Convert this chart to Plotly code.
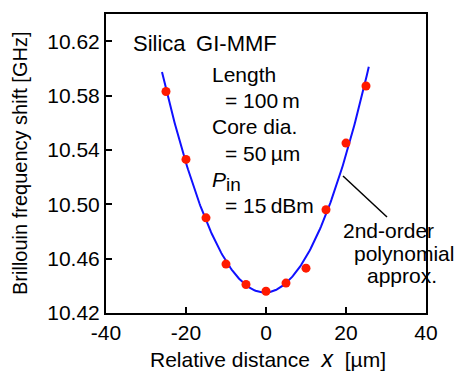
import numpy as np
import plotly.graph_objects as go

# Data
distance_um = [-25, -20, -15, -10, -5, 0, 5, 10, 15, 20, 25]
bfs_ghz = [10.583, 10.533, 10.490, 10.456, 10.441, 10.436, 10.442, 10.453, 10.496, 10.545, 10.587]

x_ticks = [-40, -20, 0, 20, 40]
y_ticks = [10.42, 10.46, 10.50, 10.54, 10.58, 10.62]

# 2nd-order polynomial approximation of the measured points
coef = np.polyfit(distance_um, bfs_ghz, 2)
xf = np.linspace(-26.0, 25.7, 200)
yf = np.polyval(coef, xf)

FONT = "Liberation Sans, Arial, sans-serif"

fig = go.Figure()
fig.add_trace(go.Scatter(x=xf, y=yf, mode="lines",
                         line=dict(color="#1010ff", width=2), hoverinfo="skip"))
fig.add_trace(go.Scatter(x=distance_um, y=bfs_ghz, mode="markers",
                         marker=dict(color="#ff1a00", size=9, line=dict(width=0))))

axis_common = dict(showline=True, linecolor="black", linewidth=2, mirror=True,
                   ticks="inside", ticklen=6, tickwidth=2, tickcolor="black",
                   showgrid=False, zeroline=False,
                   tickfont=dict(family=FONT, size=21, color="black"))

fig.update_xaxes(range=[-40, 40], tickvals=x_ticks, ticktext=[str(v) for v in x_ticks],
                 **axis_common)
fig.update_yaxes(range=[10.42, 10.64], tickvals=y_ticks,
                 ticktext=[f"{v:.2f}" for v in y_ticks], **axis_common)

ann = []
def txt(x, y, s, xanchor="left", size=21):
    ann.append(dict(x=x, y=y, xref="paper", yref="paper", text=s, showarrow=False,
                    xanchor=xanchor, yanchor="middle",
                    font=dict(family=FONT, size=size, color="black")))

W0, W1, H0, H1 = 106, 426, 14, 313
def px(xp): return (xp - W0) / (W1 - W0)
def py(yp): return (H1 - yp) / (H1 - H0)

txt(px(131), py(43), "Silica\u2009 GI-MMF", size=22)
txt(px(210), py(74), "Length")
txt(px(223), py(100), "= 100\u2009m")
txt(px(210), py(127), "Core dia.")
txt(px(223), py(153), "= 50\u2009\u00b5m")
txt(px(210), py(181), "<i>P</i><sub><span style='font-size:19px'>in</span></sub>")
txt(px(223), py(205), "= 15\u2009dBm")
txt(px(388), py(230), "2nd-order", xanchor="center")
txt(px(404), py(253), "polynomial", xanchor="center")
txt(px(402), py(275), "approx.", xanchor="center")

fig.add_shape(type="line", xref="paper", yref="paper",
              x0=px(343), y0=py(176), x1=px(387), y1=py(217),
              line=dict(color="black", width=1.5))

# axis titles
ann.append(dict(x=px(268), y=py(359), xref="paper", yref="paper",
                text="Relative distance  <i><span style='font-size:23px'>x</span></i>  [\u00b5m]",
                showarrow=False, xanchor="center", yanchor="middle",
                font=dict(family=FONT, size=21, color="black")))
ann.append(dict(x=px(20), y=py(164), xref="paper", yref="paper",
                text="Brillouin frequency shift [GHz]", showarrow=False, textangle=-90,
                xanchor="center", yanchor="middle",
                font=dict(family=FONT, size=20, color="black")))

fig.update_layout(width=456, height=372, margin=dict(l=W0, r=456 - W1, t=H0, b=372 - H1),
                  paper_bgcolor="white", plot_bgcolor="white", showlegend=False,
                  annotations=ann)

fig.write_html("out.html", config={"displayModeBar": False},
               post_script="document.body.style.margin='0';document.body.style.overflow='hidden';")
